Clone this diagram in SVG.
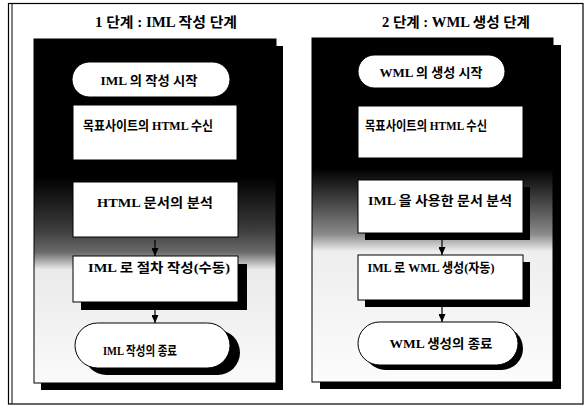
<svg xmlns="http://www.w3.org/2000/svg" width="585" height="407" viewBox="0 0 585 407">
<defs>
<linearGradient id="gL" x1="0" y1="39" x2="0" y2="383" gradientUnits="userSpaceOnUse">
<stop offset="0" stop-color="#000"/>
<stop offset="0.40" stop-color="#000"/>
<stop offset="0.55" stop-color="#3a3a3a"/>
<stop offset="0.62" stop-color="#6a6a6a"/>
<stop offset="0.67" stop-color="#eaeaea"/>
<stop offset="1" stop-color="#fafafa"/>
</linearGradient>
<linearGradient id="gR" x1="0" y1="38" x2="0" y2="382" gradientUnits="userSpaceOnUse">
<stop offset="0" stop-color="#000"/>
<stop offset="0.38" stop-color="#000"/>
<stop offset="0.50" stop-color="#555"/>
<stop offset="0.57" stop-color="#8a8a8a"/>
<stop offset="0.62" stop-color="#eee"/>
<stop offset="1" stop-color="#fcfcfc"/>
</linearGradient>
<marker id="ah" markerWidth="8" markerHeight="7" refX="8" refY="3.5" orient="auto" markerUnits="userSpaceOnUse">
<path d="M0,0 L8,3.5 L0,7 Z" fill="#000"/>
</marker>
<style>
.frame{fill:none;stroke:#000;stroke-width:1.2}
.panel{stroke:#000;stroke-width:1}
.shadow{fill:#000}
.box{fill:#fff;stroke:#000;stroke-width:1}
.t{font-family:"Liberation Serif","Noto Sans CJK KR",serif;font-weight:bold;font-size:13px;fill:#000}
.title{font-family:"Liberation Serif","Noto Sans CJK KR",serif;font-weight:bold;font-size:14px;fill:#000}
.conn{stroke:#000;stroke-width:1.2;fill:none;marker-end:url(#ah)}
</style>
</defs>
<rect x="0" y="0" width="585" height="407" fill="#fff"/>
<rect class="frame" x="8.5" y="3.5" width="574.5" height="400.5"/>
<line x1="12" y1="4" x2="12" y2="404" stroke="#000" stroke-width="1"/>

<g id="panel-left">
<rect class="shadow" x="41" y="46" width="242" height="344"/>
<rect class="panel" x="34" y="39" width="242" height="344" fill="url(#gL)"/>
<text class="title" x="166" y="27" text-anchor="middle" textLength="142" lengthAdjust="spacingAndGlyphs">1 단계 : IML 작성 단계</text>
</g>
<g id="panel-right">
<rect class="shadow" x="320" y="45" width="241" height="344"/>
<rect class="panel" x="312" y="38" width="241" height="344" fill="url(#gR)"/>
<text class="title" x="456" y="27" text-anchor="middle" textLength="148" lengthAdjust="spacingAndGlyphs">2 단계 : WML 생성 단계</text>
</g>

<g id="L1">
<rect class="box" x="72" y="62" width="158" height="35" rx="17.5"/>
<text class="t" x="149" y="85" text-anchor="middle" textLength="97" lengthAdjust="spacingAndGlyphs">IML 의 작성 시작</text>
</g>
<g id="L2">
<rect class="box" x="73" y="105" width="164" height="55"/>
<text class="t" x="148" y="130" text-anchor="middle" textLength="130" lengthAdjust="spacingAndGlyphs">목표사이트의 HTML 수신</text>
</g>
<g id="L3">
<rect class="box" x="73" y="182" width="165" height="55"/>
<text class="t" x="155" y="207" text-anchor="middle" textLength="116" lengthAdjust="spacingAndGlyphs">HTML 문서의 분석</text>
</g>
<g id="L4">
<rect class="shadow" x="81" y="264" width="166" height="46"/>
<rect class="box" x="73" y="256" width="165" height="46"/>
<text class="t" x="159" y="272" text-anchor="middle" textLength="142" lengthAdjust="spacingAndGlyphs">IML 로 절차 작성(수동)</text>
</g>
<g id="L5">
<rect class="shadow" x="84" y="330" width="156" height="45" rx="22.5"/>
<rect class="box" x="75" y="323" width="155" height="45" rx="22.5"/>
<text class="t" x="140" y="355" text-anchor="middle" textLength="74" lengthAdjust="spacingAndGlyphs">IML 작성의 종료</text>
</g>

<g id="R1">
<rect class="box" x="358" y="55" width="147" height="33" rx="16.5"/>
<text class="t" x="431" y="77" text-anchor="middle" textLength="103" lengthAdjust="spacingAndGlyphs">WML 의 생성 시작</text>
</g>
<g id="R2">
<rect class="box" x="358" y="106" width="165" height="52"/>
<text class="t" x="426" y="130" text-anchor="middle" textLength="122" lengthAdjust="spacingAndGlyphs">목표사이트의 HTML 수신</text>
</g>
<g id="R3">
<rect class="shadow" x="365" y="187" width="165" height="53"/>
<rect class="box" x="358" y="180" width="165" height="53"/>
<text class="t" x="440" y="205" text-anchor="middle" textLength="144" lengthAdjust="spacingAndGlyphs">IML 을 사용한 문서 분석</text>
</g>
<g id="R4">
<rect class="shadow" x="365" y="262" width="165" height="45"/>
<rect class="box" x="358" y="255" width="165" height="45"/>
<text class="t" x="431" y="272" text-anchor="middle" textLength="127" lengthAdjust="spacingAndGlyphs">IML 로 WML 생성(자동)</text>
</g>
<g id="R5">
<rect class="shadow" x="364" y="327" width="159" height="43" rx="21.5"/>
<rect class="box" x="358" y="322" width="160" height="43" rx="21.5"/>
<text class="t" x="441" y="348" text-anchor="middle" textLength="103" lengthAdjust="spacingAndGlyphs">WML 생성의 종료</text>
</g>

<g id="connectors">
<line class="conn" x1="155" y1="240" x2="155" y2="256"/>
<line class="conn" x1="155" y1="310" x2="155" y2="323"/>
<line class="conn" x1="442" y1="240" x2="442" y2="255"/>
<line class="conn" x1="442" y1="307" x2="442" y2="322"/>
</g>
</svg>
